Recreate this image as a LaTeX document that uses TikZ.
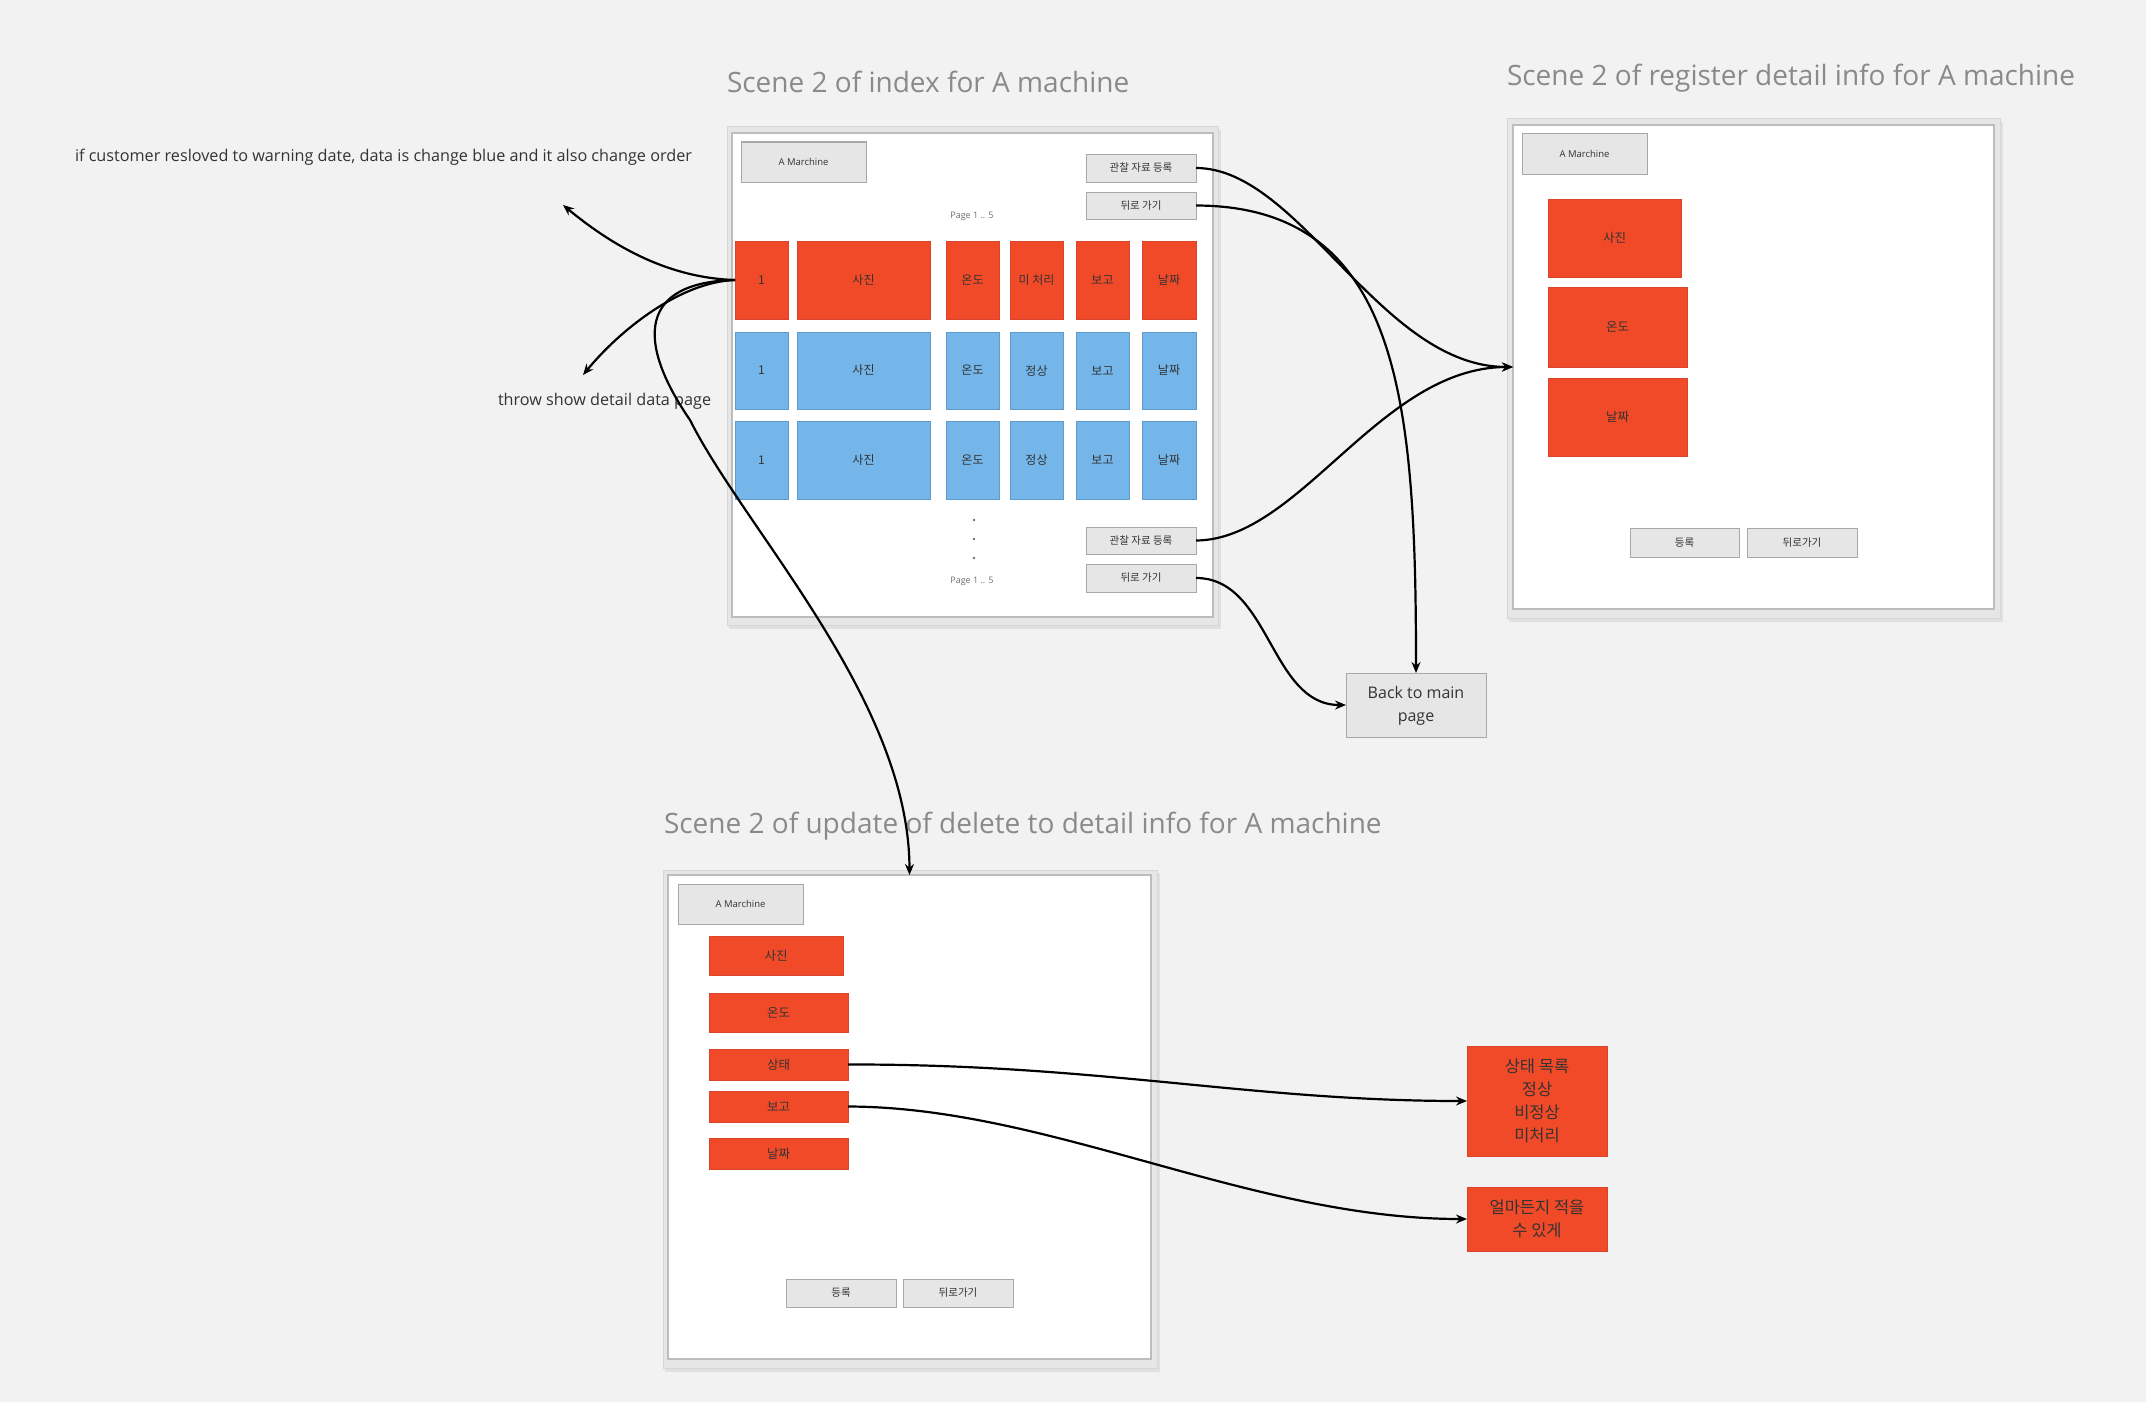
\documentclass[tikz,border=0pt]{standalone}
\usepackage{fontspec}
\setmainfont{Open Sans}
\newfontfamily\kr{Noto Sans CJK KR}
\usetikzlibrary{arrows.meta}
\definecolor{bgc}{HTML}{F2F2F2}
\definecolor{redc}{HTML}{F14A28}
\definecolor{rededge}{HTML}{D8452B}
\definecolor{bluec}{HTML}{74B6E9}
\definecolor{blueedge}{HTML}{5F9CCB}
\definecolor{btnfill}{HTML}{E6E6E6}
\definecolor{btnedge}{HTML}{A8A8A8}
\definecolor{frout}{HTML}{E6E6E6}
\definecolor{froutedge}{HTML}{D6D6D6}
\definecolor{frshadow}{HTML}{E0E0E0}
\definecolor{frin}{HTML}{BDBDBD}
\definecolor{titlec}{HTML}{8A8A8A}
\definecolor{txt}{HTML}{333333}
\definecolor{pagec}{HTML}{6E6E6E}
\newcommand\bx[7]{\node[#6, minimum width={(#4-#2)*1pt}, minimum height={(#5-#3)*1pt}] (#1) at ({(#2+#4)/2},{(#3+#5)/2}) {#7};}
\tikzset{
  base/.style={inner sep=0pt, outer sep=0pt},
  frameout/.style={base, draw=froutedge, fill=frout, line width=1pt},
  frameshadow/.style={base, fill=frshadow},
  framein/.style={base, draw=frin, fill=white, line width=1.2pt},
  btn/.style={base, draw=btnedge, fill=btnfill, line width=1pt, text=txt, font=\kr\fontsize{10.5}{12}\selectfont},
  namebox/.style={base, draw=btnedge, fill=btnfill, line width=1pt, text=txt, font=\fontsize{9.5}{11}\selectfont},
  redcell/.style={base, draw=rededge, fill=redc, line width=0.8pt, text=txt, font=\kr\fontsize{12}{14}\selectfont},
  bluecell/.style={base, draw=blueedge, fill=bluec, line width=0.8pt, text=txt, font=\kr\fontsize{12}{14}\selectfont},
  bigred/.style={base, draw=rededge, fill=redc, line width=0.8pt, text=txt, align=center, font=\kr\fontsize{16.5}{23.2}\selectfont},
  backbox/.style={base, draw=btnedge, fill=btnfill, line width=1pt, text=txt, align=center, font=\fontsize{16}{23}\selectfont},
  title/.style={base, anchor=base west, text=titlec, font=\fontsize{28}{34}\selectfont},
  anno/.style={base, anchor=base west, text=txt, font=\fontsize{16.2}{19}\selectfont},
  pagelbl/.style={base, text=pagec, font=\fontsize{9}{11}\selectfont},
  conn/.style={line width=2.2pt, -{Stealth[length=11pt,width=9pt]}},
}
\begin{document}
\begin{tikzpicture}[x=1pt,y=-1pt]
\useasboundingbox (0,0) rectangle (2146,1402);
\fill[bgc] (0,0) rectangle (2146,1402);

% ---------- titles ----------
\node[title] (t1) at (727,93) {Scene 2 of index for A machine};
\node[title] (t2) at (1507,86) {Scene 2 of register detail info for A machine};
\node[title] (t3) at (664,833) {Scene 2 of update of delete to detail info for A machine};

% ---------- annotations ----------
\node[anno] (note1) at (75,161) {if customer resloved to warning date, data is change blue and it also change order};
\node[anno] (note2) at (498,405) {throw show detail data page};
\coordinate (ann1) at (563,205);
\coordinate (ann2) at (583,375);

% ---------- index scene ----------
\bx{idxS}{729}{130}{1221}{629}{frameshadow}{}
\bx{idxO}{727}{127}{1218}{625}{frameout}{}
\bx{idx}{732}{133}{1213}{617}{framein}{}
\bx{idxName}{741}{142}{866}{182}{namebox}{A Marchine}
\bx{btnA}{1086}{154}{1196}{182}{btn}{관찰 자료 등록}
\bx{btnB}{1086}{192}{1196}{219}{btn}{뒤로 가기}
\node[pagelbl] (pg1) at (972,216) {Page 1 .. 5};

\bx{r1c1}{735}{241}{788}{319}{redcell}{1}
\bx{r1c2}{797}{241}{930}{319}{redcell}{사진}
\bx{r1c3}{946}{241}{999}{319}{redcell}{온도}
\bx{r1c4}{1010}{241}{1063}{319}{redcell}{미 처리}
\bx{r1c5}{1076}{241}{1129}{319}{redcell}{보고}
\bx{r1c6}{1142}{241}{1196}{319}{redcell}{날짜}

\bx{r2c1}{735}{332}{788}{409}{bluecell}{1}
\bx{r2c2}{797}{332}{930}{409}{bluecell}{사진}
\bx{r2c3}{946}{332}{999}{409}{bluecell}{온도}
\bx{r2c4}{1010}{332}{1063}{409}{bluecell}{정상}
\bx{r2c5}{1076}{332}{1129}{409}{bluecell}{보고}
\bx{r2c6}{1142}{332}{1196}{409}{bluecell}{날짜}

\bx{r3c1}{735}{421}{788}{499}{bluecell}{1}
\bx{r3c2}{797}{421}{930}{499}{bluecell}{사진}
\bx{r3c3}{946}{421}{999}{499}{bluecell}{온도}
\bx{r3c4}{1010}{421}{1063}{499}{bluecell}{정상}
\bx{r3c5}{1076}{421}{1129}{499}{bluecell}{보고}
\bx{r3c6}{1142}{421}{1196}{499}{bluecell}{날짜}

\fill[pagec] (974,520) circle (1.3);
\fill[pagec] (974,539) circle (1.3);
\fill[pagec] (974,558) circle (1.3);
\node[pagelbl] (pg2) at (972,581) {Page 1 .. 5};
\bx{btnC}{1086}{527}{1196}{554}{btn}{관찰 자료 등록}
\bx{btnD}{1086}{564}{1196}{592}{btn}{뒤로 가기}

% ---------- register scene ----------
\bx{regS}{1509}{122}{2003}{622}{frameshadow}{}
\bx{regO}{1507}{119}{2000}{618}{frameout}{}
\bx{reg}{1513}{125}{1994}{609}{framein}{}
\bx{regName}{1522}{134}{1647}{174}{namebox}{A Marchine}
\bx{regA}{1548}{199}{1681}{277}{redcell}{\fontsize{12.5}{14}\selectfont 사진}
\bx{regB}{1548}{287}{1687}{367}{redcell}{\fontsize{12.5}{14}\selectfont 온도}
\bx{regC}{1548}{378}{1687}{456}{redcell}{\fontsize{12.5}{14}\selectfont 날짜}
\bx{regOk}{1630}{528}{1739}{557}{btn}{등록}
\bx{regBack}{1747}{528}{1857}{557}{btn}{뒤로가기}

% ---------- back to main ----------
\bx{back}{1346}{673}{1486}{737}{backbox}{\raisebox{-2.5pt}{\begin{tabular}{@{}c@{}}Back to main\\[-0.2pt]page\end{tabular}}}

% ---------- update scene ----------
\bx{updS}{665}{873}{1160}{1372}{frameshadow}{}
\bx{updO}{663}{870}{1157}{1368}{frameout}{}
\bx{upd}{668}{875}{1151}{1359}{framein}{}
\bx{updName}{678}{884}{803}{924}{namebox}{A Marchine}
\bx{upa}{709}{936}{843}{975}{redcell}{\fontsize{12.5}{14}\selectfont 사진}
\bx{upb}{709}{993}{848}{1032}{redcell}{\fontsize{12.5}{14}\selectfont 온도}
\bx{ust}{709}{1049}{848}{1080}{redcell}{\fontsize{12.5}{14}\selectfont 상태}
\bx{ubo}{709}{1091}{848}{1122}{redcell}{\fontsize{12.5}{14}\selectfont 보고}
\bx{uda}{709}{1138}{848}{1169}{redcell}{\fontsize{12.5}{14}\selectfont 날짜}
\bx{updOk}{786}{1279}{896}{1307}{btn}{등록}
\bx{updBack}{903}{1279}{1013}{1307}{btn}{뒤로가기}

% ---------- right red boxes ----------
\bx{st}{1467}{1046}{1607}{1156}{bigred}{상태 목록\\정상\\비정상\\미처리}
\bx{free}{1467}{1187}{1607}{1251}{bigred}{얼마든지 적을\\수 있게}

% ---------- connectors ----------
\draw[conn] (r1c1.west) .. controls (670,278) and (615,248) .. (ann1);
\draw[conn] (r1c1.west) .. controls (680,282) and (620,330) .. (ann2);
\draw[conn] (r1c1.west) .. controls (640,282) and (635,340) .. (690,420)
            .. controls (745,530) and (909,700) .. (upd.north);
\draw[conn] (btnA.east) .. controls (1300,168) and (1380,367) .. (reg.west);
\draw[conn] (btnC.east) .. controls (1300,540) and (1380,367) .. (reg.west);
\draw[conn] (btnB.east) .. controls (1400,206) and (1416,400) .. (back.north);
\draw[conn] (btnD.east) .. controls (1270,578) and (1270,705) .. (back.west);
\draw[conn] (ust.east) .. controls (1100,1064) and (1250,1101) .. (st.west);
\draw[conn] (ubo.east) .. controls (1050,1107) and (1250,1219) .. (free.west);
\end{tikzpicture}
\end{document}
